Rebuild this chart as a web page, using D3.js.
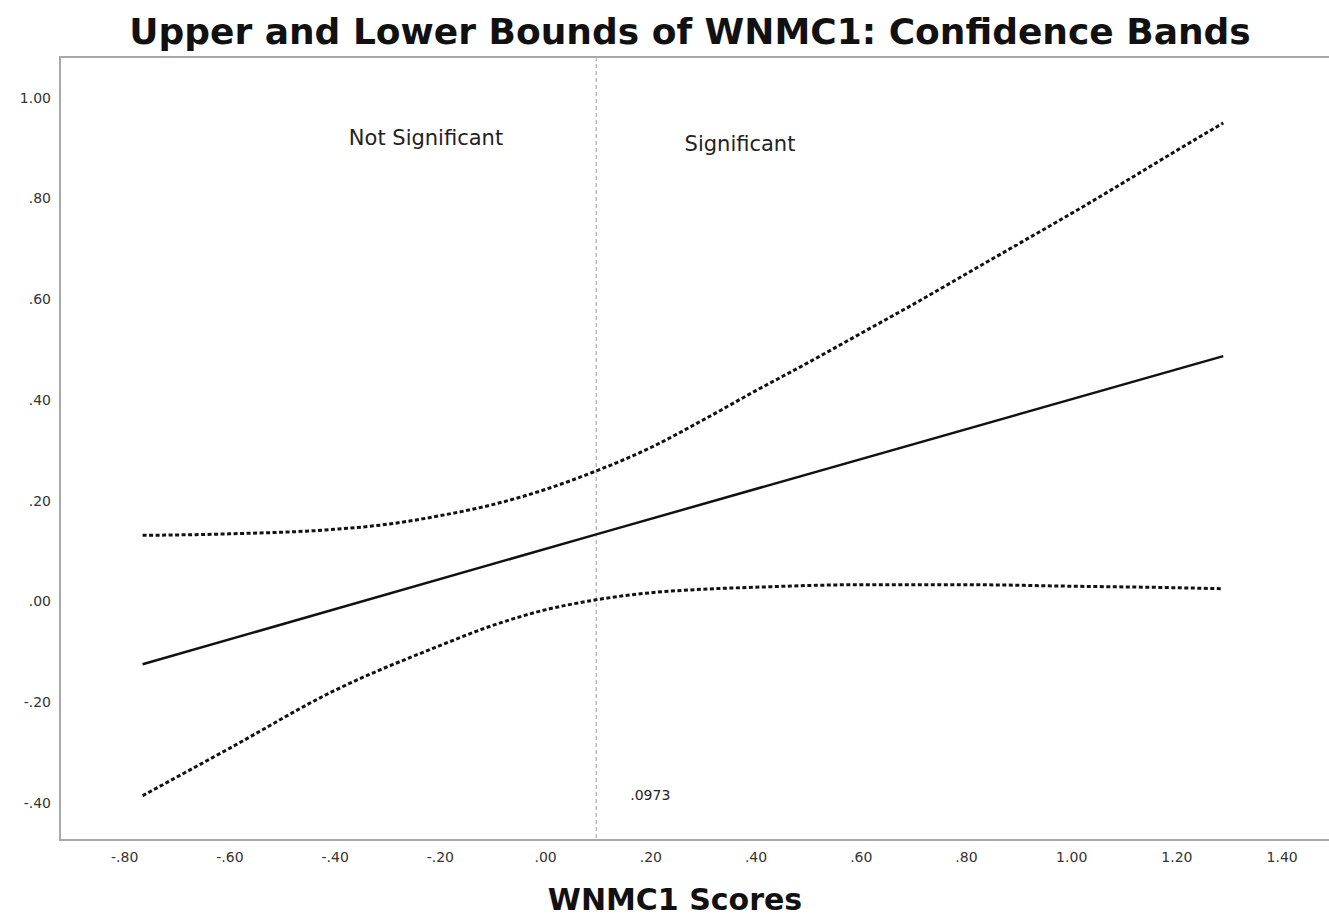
<!DOCTYPE html>
<html>
<head>
<meta charset="utf-8">
<script src="https://cdn.jsdelivr.net/npm/d3@7"></script>
<style>
  body { margin: 0; background: #fff; }
  svg { display: block; }
</style>
</head>
<body>
<div id="chart"></div>
<script>
// values
const xTicks = [-0.8, -0.6, -0.4, -0.2, 0, 0.2, 0.4, 0.6, 0.8, 1.0, 1.2, 1.4];
const yTicks = [-0.4, -0.2, 0, 0.2, 0.4, 0.6, 0.8, 1.0];

const estX = [-0.765, 0.0973, 1.289];
const estY = [-0.125, 0.133, 0.487];

const upperX = [-0.765, -0.6, -0.4, -0.3, -0.2, -0.1, 0.0, 0.0973, 0.2, 0.3, 0.4, 0.5, 0.6, 0.7, 0.8, 0.9, 1.0, 1.1, 1.2, 1.289];
const upperY = [0.131, 0.134, 0.143, 0.153, 0.170, 0.192, 0.222, 0.259, 0.305, 0.360, 0.418, 0.474, 0.532, 0.590, 0.650, 0.710, 0.770, 0.832, 0.895, 0.950];

const lowerX = [-0.765, -0.6, -0.4, -0.2, -0.1, 0.0, 0.0973, 0.2, 0.3, 0.4, 0.6, 0.8, 1.0, 1.2, 1.289];
const lowerY = [-0.386, -0.292, -0.177, -0.088, -0.048, -0.017, 0.003, 0.017, 0.024, 0.028, 0.033, 0.033, 0.030, 0.027, 0.025];

const jnPoint = 0.0973;

let width = 1329,
    height = 916;

let margin = { top: 57, bottom: 76, left: 60, right: 0 };

let svg = d3.select('#chart')
  .append('svg')
  .attr('width', width)
  .attr('height', height)
  .style('font-family', "'DejaVu Sans', sans-serif");

let xScale = d3.scaleLinear()
  .domain([-0.922, 1.49])
  .range([margin.left, width - margin.right]);

let yScale = d3.scaleLinear()
  .domain([-0.474, 1.081])
  .range([height - margin.bottom, margin.top]);

// ".80" / "-.80" style labels, plain hyphen for minus
const fmt = v => d3.format('.2f')(v).replace('\u2212', '-').replace(/^(-?)0\./, '$1.');

// axes (no tick marks, no domain line)
let xAxis = svg.append('g')
  .attr('transform', `translate(0,${yScale.range()[0]})`)
  .call(d3.axisBottom(xScale).tickValues(xTicks).tickFormat(fmt).tickSize(0).tickPadding(12));

let yAxis = svg.append('g')
  .attr('transform', `translate(${margin.left},0)`)
  .call(d3.axisLeft(yScale).tickValues(yTicks).tickFormat(fmt).tickSize(0).tickPadding(9));

svg.selectAll('.domain').remove();
svg.selectAll('.tick text')
  .style('font-family', "'DejaVu Sans', sans-serif")
  .style('font-size', '14px')
  .attr('fill', '#333');

// frame
svg.append('rect')
  .attr('x', xScale.range()[0])
  .attr('y', yScale.range()[1])
  .attr('width', width + 10 - xScale.range()[0])
  .attr('height', yScale.range()[0] - yScale.range()[1])
  .attr('fill', 'none')
  .attr('stroke', '#a8a8a8')
  .attr('stroke-width', 2);

// reference line at the J-N point
svg.append('line')
  .attr('x1', xScale(jnPoint))
  .attr('x2', xScale(jnPoint))
  .attr('y1', yScale.range()[1])
  .attr('y2', yScale.range()[0])
  .attr('stroke', '#bdbdbd')
  .attr('stroke-width', 1.5)
  .attr('stroke-dasharray', '4,3');

let line = d3.line()
  .x(d => xScale(d[0]))
  .y(d => yScale(d[1]))
  .curve(d3.curveMonotoneX);

svg.append('path')
  .datum(upperX.map((x, i) => [x, upperY[i]]))
  .attr('d', line)
  .attr('fill', 'none')
  .attr('stroke', '#111')
  .attr('stroke-width', 3)
  .attr('stroke-dasharray', '4,2.5');

svg.append('path')
  .datum(lowerX.map((x, i) => [x, lowerY[i]]))
  .attr('d', line)
  .attr('fill', 'none')
  .attr('stroke', '#111')
  .attr('stroke-width', 3)
  .attr('stroke-dasharray', '4,2.5');

svg.append('path')
  .datum(estX.map((x, i) => [x, estY[i]]))
  .attr('d', line)
  .attr('fill', 'none')
  .attr('stroke', '#111')
  .attr('stroke-width', 2.5);

// annotations
svg.append('text')
  .attr('x', 426)
  .attr('y', 145)
  .text('Not Significant')
  .style('text-anchor', 'middle')
  .style('font-size', '21px')
  .attr('fill', '#222');

svg.append('text')
  .attr('x', 740)
  .attr('y', 151)
  .text('Significant')
  .style('text-anchor', 'middle')
  .style('font-size', '21px')
  .attr('fill', '#222');

svg.append('text')
  .attr('x', xScale(jnPoint) + 54)
  .attr('y', 800)
  .text('.0973')
  .style('text-anchor', 'middle')
  .style('font-size', '14px')
  .attr('fill', '#222');

// title
svg.append('text')
  .attr('x', 690)
  .attr('y', 44)
  .text('Upper and Lower Bounds of WNMC1: Confidence Bands')
  .style('text-anchor', 'middle')
  .style('font-size', '36px')
  .style('font-weight', 'bold')
  .attr('fill', '#111');

// x-axis label
svg.append('text')
  .attr('x', 675)
  .attr('y', 910)
  .text('WNMC1 Scores')
  .style('text-anchor', 'middle')
  .style('font-size', '30px')
  .style('font-weight', 'bold')
  .attr('fill', '#111');
</script>
</body>
</html>
